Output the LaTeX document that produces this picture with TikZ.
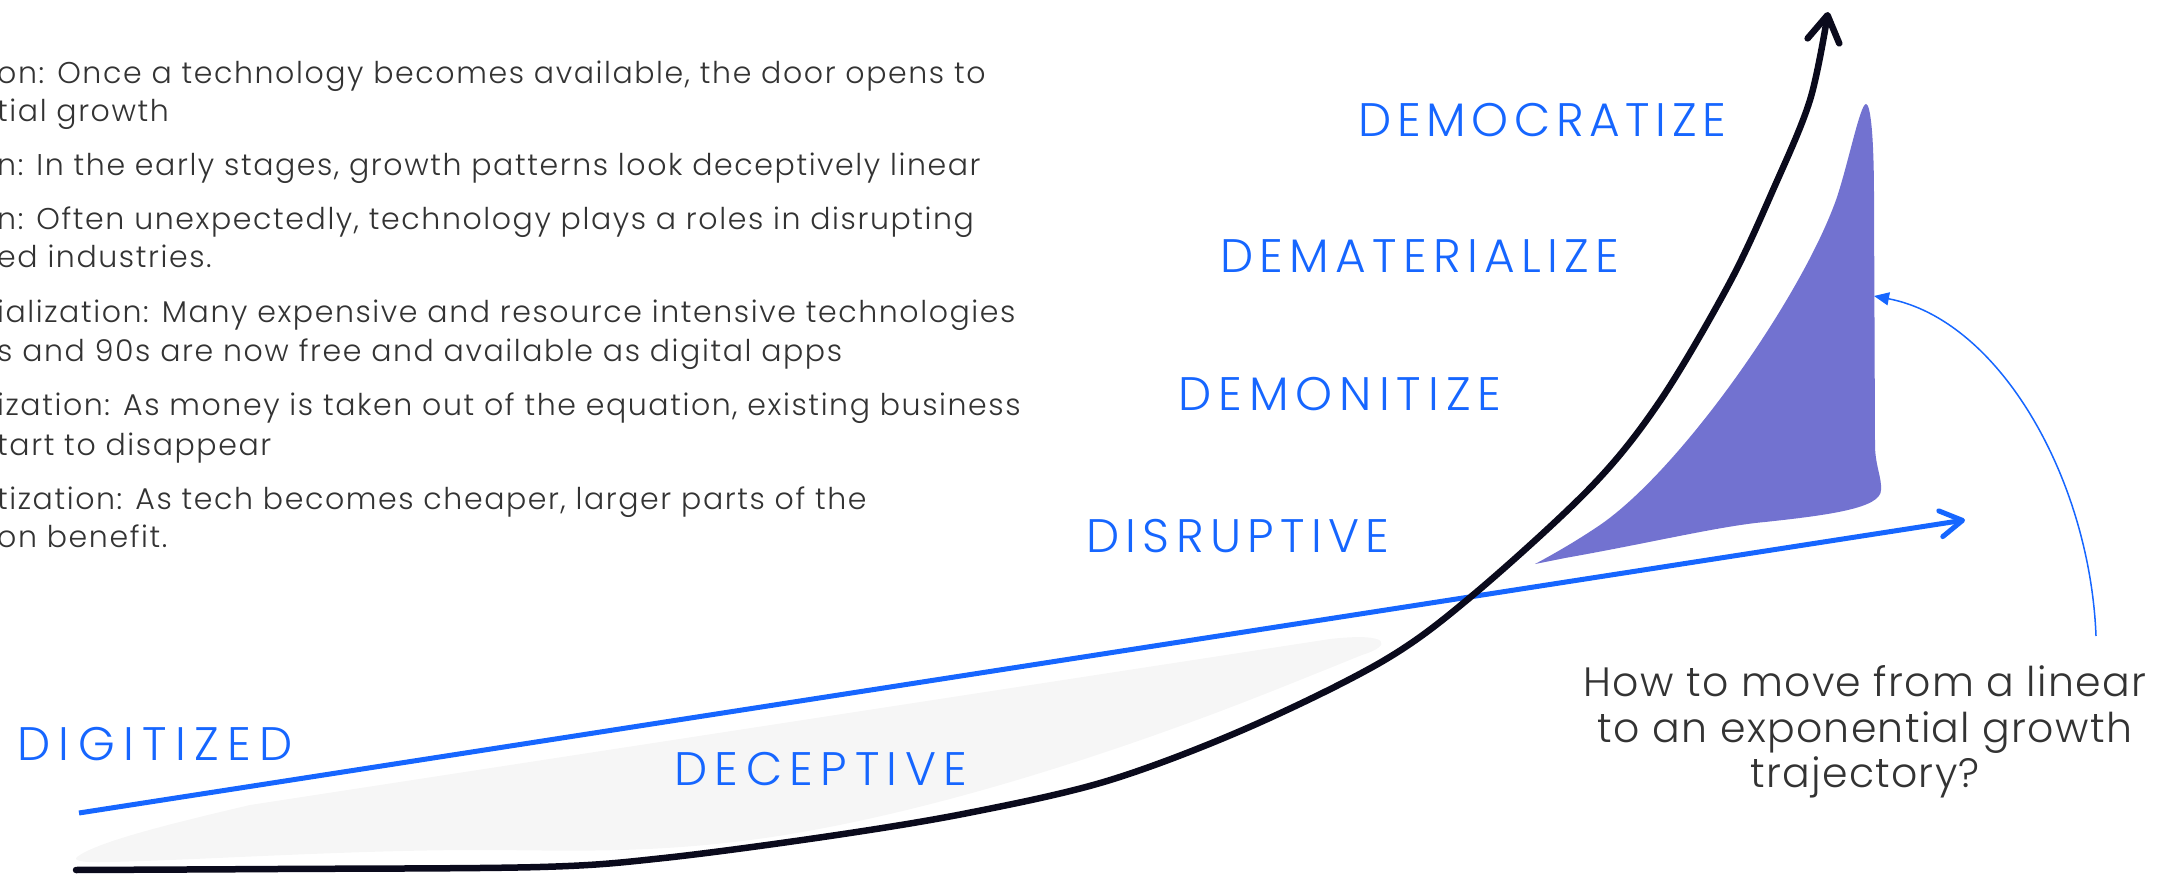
\documentclass[tikz,border=0pt]{standalone}
\usepackage{fontspec}
\setmainfont{Poppins Light}
\usetikzlibrary{arrows.meta}
\definecolor{accent}{RGB}{22,102,255}
\definecolor{ink}{RGB}{10,10,28}
\definecolor{purp}{RGB}{114,114,208}
\definecolor{fog}{RGB}{246,246,246}
\definecolor{txt}{RGB}{51,51,51}
\begin{document}
\begin{tikzpicture}[x=1pt,y=-1pt,
  stage/.style={anchor=base west, inner sep=0pt, text=accent,
    font=\fontsize{47}{47}\selectfont\addfontfeatures{LetterSpace=#1}},
  stage/.default=12,
  body/.style={anchor=base west, inner sep=0pt, text=txt,
    font=\fontsize{30}{38}\selectfont\addfontfeatures{LetterSpace=5.3}},
  question/.style={anchor=base, inner sep=0pt, text=txt,
    font=\fontsize{41}{45}\selectfont\addfontfeatures{LetterSpace=3.2}},
  exptrend/.style={draw=ink, line width=6.5pt, line cap=round, line join=round,
    -{Straight Barb[length=26pt,width=32pt,round]}},
  lintrend/.style={draw=accent, line width=5pt,
    -{Straight Barb[length=22pt,width=26pt,round]}},
  pointer/.style={draw=accent, line width=1.5pt, -{Triangle[length=15pt,width=13pt]}}
]
\useasboundingbox (0,0) rectangle (2169,874);

% light grey "deceptive" gap
\fill[fog] (77,857) .. controls (95,843) and (160,826) .. (250,805)
  -- (1330,639) .. controls (1392,632) and (1392,646) .. (1362,655)
  .. controls (1340,664) and (1310,676) .. (1280,688)
  .. controls (1150,740) and (950,810) .. (772,837)
  .. controls (650,855) and (560,850) .. (480,850)
  .. controls (350,850) and (200,860) .. (110,862)
  .. controls (85,863) and (72,861) .. (77,857) -- cycle;

% purple growth area
\fill[purp] (1535,564) -- (1565,558)
  .. controls (1650,543) and (1720,526) .. (1765,522)
  .. controls (1830,515) and (1881,508) .. (1881,490)
  .. controls (1882,478) and (1875,465) .. (1875,445)
  -- (1874,200)
  .. controls (1874,130) and (1870,104) .. (1866,104)
  .. controls (1860,104) and (1848,165) .. (1836,200)
  .. controls (1800,300) and (1680,470) .. (1600,525)
  .. controls (1575,542) and (1550,556) .. (1535,564) -- cycle;

% linear trend
\coordinate (linS) at (79,813);
\coordinate (linE) at (1965,520);
\draw[lintrend] (linS) -- (linE);

% exponential trend
\coordinate (expS) at (76,870);
\coordinate (expE) at (1828,12);
\draw[exptrend] plot[smooth, tension=0.55] coordinates {
  (76,870) (277,869) (540,867) (664,858) (830,836) (968,813) (1107,781)
  (1245,729) (1383,661) (1473,595) (1591,487) (1660,401) (1729,284)
  (1773,190) (1810,100) (1828,12)};

% pointer from question to purple area
\coordinate (qS) at (2096,636);
\coordinate (qE) at (1874,296);
\draw[pointer] (qS) .. controls (2090,480) and (2000,320) .. (qE);

% stage labels
\node[stage=12]   (democ) at (1358,137) {DEMOCRATIZE};
\node[stage=13.5] (demat) at (1220,273) {DEMATERIALIZE};
\node[stage=15]   (demon) at (1178,411) {DEMONITIZE};
\node[stage=13.5] (disr)  at (1086,552) {DISRUPTIVE};
\node[stage=18]   (digi)  at (17,760)   {DIGITIZED};
\node[stage=16]   (dece)  at (674,785)  {DECEPTIVE};

% question
\node[question] (q1) at (1865,696) {How to move from a linear};
\node[question] (q2) at (1865,742) {to an exponential growth};
\node[question] (q3) at (1865,787) {trajectory?};

% body text (clipped at the left edge)
\node[body] (b1)  at (-3,84)  {on: Once a technology becomes available, the door opens to};
\node[body] (b2)  at (-3,122) {tial growth};
\node[body] (b3)  at (-3,176) {n: In the early stages, growth patterns look deceptively linear};
\node[body] (b4)  at (-3,230) {n: Often unexpectedly, technology plays a roles in disrupting};
\node[body] (b5)  at (-3,268) {ed industries.};
\node[body] (b6)  at (-3,323) {ialization: Many expensive and resource intensive technologies};
\node[body] (b7)  at (-3,362) {s and 90s are now free and available as digital apps};
\node[body] (b8)  at (-3,416) {ization: As money is taken out of the equation, existing business};
\node[body] (b9)  at (-3,455) {tart to disappear};
\node[body] (b10) at (-3,509) {tization: As tech becomes cheaper, larger parts of the};
\node[body] (b11) at (-3,547) {on benefit.};
\end{tikzpicture}
\end{document}
